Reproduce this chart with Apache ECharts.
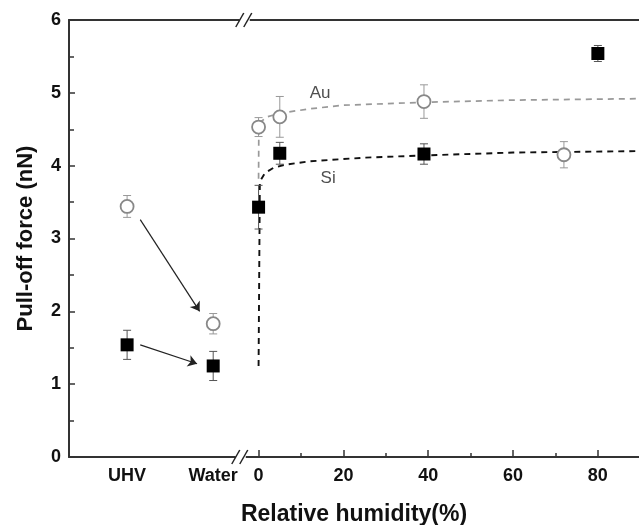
<!DOCTYPE html>
<html>
<head>
<meta charset="utf-8">
<script src="https://cdn.jsdelivr.net/npm/echarts@6/dist/echarts.min.js"></script>
<style>
  html, body { margin: 0; padding: 0; background: #fff; }
  #chart { width: 639px; height: 525px; }
</style>
</head>
<body>
<div id="chart"></div>
<script>
// left part of the broken axis (UHV / Water), placed at negative x positions
const sideLabels = ['UHV', 'Water'];
const sidePos = [-31, -10.7];
const auSide = [3.44, 1.83];
const auSideErr = [0.15, 0.14];
const siSide = [1.54, 1.25];
const siSideErr = [0.2, 0.2];

// humidity part
const auRH = [0, 5, 39, 72];
const auVal = [4.53, 4.67, 4.88, 4.15];
const auErr = [0.13, 0.28, 0.23, 0.18];
const siRH = [0, 5, 39, 80];
const siVal = [3.43, 4.17, 4.16, 5.54];
const siErr = [0.3, 0.15, 0.14, 0.11];

// dashed fit curves
const auFitX = [0, 0.05, 0.5, 2, 5, 12, 20, 39, 60, 90];
const auFitY = [3.82, 4.45, 4.6, 4.67, 4.72, 4.78, 4.83, 4.87, 4.9, 4.92];
const siFitX = [0, 0.3, 1.5, 3.5, 6, 12, 25, 39, 60, 90];
const siFitY = [1.25, 3.78, 3.9, 3.97, 4.01, 4.06, 4.11, 4.14, 4.18, 4.2];

// arrows UHV -> Water
const arrowAu = [[-27.9, 3.26], [-13.9, 2.0]];
const arrowSi = [[-27.9, 1.54], [-14.5, 1.28]];

const xTicks = [0, 20, 40, 60, 80];
const xMinor = [10, 30, 50, 70];
const breakX = -4.2;

const chart = echarts.init(document.getElementById('chart'));
const font = 'Liberation Sans, Arial, sans-serif';

function pts(xs, ys) { return xs.map((x, i) => [x, ys[i]]); }
function errs(xs, ys, es) { return xs.map((x, i) => [x, ys[i], ys[i] - es[i], ys[i] + es[i]]); }

function errRender(color) {
  return function (params, api) {
    const x = api.value(0);
    const a = api.coord([x, api.value(2)]);
    const b = api.coord([x, api.value(3)]);
    const w = 4;
    const st = { stroke: color, lineWidth: 1 };
    return {
      type: 'group',
      children: [
        { type: 'line', shape: { x1: a[0], y1: a[1], x2: b[0], y2: b[1] }, style: st },
        { type: 'line', shape: { x1: a[0] - w, y1: a[1], x2: a[0] + w, y2: a[1] }, style: st },
        { type: 'line', shape: { x1: b[0] - w, y1: b[1], x2: b[0] + w, y2: b[1] }, style: st }
      ]
    };
  };
}

const auPoints = pts(sidePos, auSide).concat(pts(auRH, auVal));
const siPoints = pts(sidePos, siSide).concat(pts(siRH, siVal));
const auErrData = errs(sidePos, auSide, auSideErr).concat(errs(auRH, auVal, auErr));
const siErrData = errs(sidePos, siSide, siSideErr).concat(errs(siRH, siVal, siErr));

const labelMap = {};
sidePos.forEach((p, i) => { labelMap[p] = sideLabels[i]; });

const axisCommon = { type: 'value', min: -44.7, max: 89.7, gridIndex: 0 };

chart.setOption({
  animation: false,
  grid: { left: 69, top: 20, right: 0, bottom: 68, outerBoundsMode: 'none', containLabel: false },
  xAxis: [
    Object.assign({}, axisCommon, {
      position: 'bottom',
      name: 'Relative humidity(%)',
      nameLocation: 'middle',
      nameGap: 46,
      nameTextStyle: { fontFamily: font, fontWeight: 'bold', fontSize: 23, color: '#111' },
      axisLine: { show: true, onZero: false, lineStyle: { color: '#333', width: 2 } },
      axisTick: { show: true, inside: true, length: 7, customValues: xTicks, lineStyle: { color: '#333', width: 1.5 } },
      axisLabel: {
        customValues: sidePos.concat(xTicks),
        fontFamily: font, fontWeight: 'bold', fontSize: 18, color: '#111', margin: 10,
        formatter: v => (labelMap[v] !== undefined ? labelMap[v] : String(v))
      },
      splitLine: { show: false }
    }),
    Object.assign({}, axisCommon, {
      position: 'bottom',
      axisLine: { show: false, onZero: false },
      axisTick: { show: true, inside: true, length: 4, customValues: xMinor, lineStyle: { color: '#333', width: 1.5 } },
      axisLabel: { show: false },
      splitLine: { show: false }
    }),
    Object.assign({}, axisCommon, {
      position: 'top',
      axisLine: { show: true, onZero: false, lineStyle: { color: '#333', width: 2 } },
      axisTick: { show: false },
      axisLabel: { show: false },
      splitLine: { show: false }
    })
  ],
  yAxis: {
    type: 'value', min: 0, max: 6, interval: 1,
    position: 'left',
    name: 'Pull-off force (nN)',
    nameLocation: 'middle',
    nameGap: 32,
    nameTextStyle: { fontFamily: font, fontWeight: 'bold', fontSize: 22, color: '#111' },
    axisLine: { show: true, onZero: false, lineStyle: { color: '#333', width: 2 } },
    axisTick: { show: true, inside: true, length: 6, lineStyle: { color: '#333', width: 1.5 } },
    minorTick: { show: true, splitNumber: 2, length: 5, lineStyle: { color: '#333', width: 1.5 } },
    axisLabel: { fontFamily: font, fontWeight: 'bold', fontSize: 18, color: '#111', margin: 8 },
    splitLine: { show: false }
  },
  series: [
    {
      type: 'line', data: pts(auFitX, auFitY), symbol: 'none', z: 1,
      lineStyle: { color: '#999', width: 1.7, type: [6, 5] }
    },
    {
      type: 'line', data: pts(siFitX, siFitY), symbol: 'none', z: 1,
      lineStyle: { color: '#111', width: 1.9, type: [6, 5] }
    },
    { type: 'custom', renderItem: errRender('#999'), data: auErrData, z: 2 },
    { type: 'custom', renderItem: errRender('#555'), data: siErrData, z: 2 },
    {
      type: 'scatter', data: auPoints, symbol: 'circle', symbolSize: 13, z: 3,
      itemStyle: { color: '#fff', borderColor: '#888', borderWidth: 1.8, opacity: 1 }
    },
    {
      type: 'scatter', data: siPoints, symbol: 'rect', symbolSize: 13, z: 4,
      itemStyle: { color: '#000', opacity: 1 }
    },
    {
      type: 'line', data: [], z: 5,
      markLine: {
        silent: true, symbol: ['none', 'arrow'], symbolSize: 9,
        label: { show: false },
        lineStyle: { color: '#222', width: 1.2, type: 'solid' },
        data: [
          [{ coord: arrowAu[0] }, { coord: arrowAu[1] }],
          [{ coord: arrowSi[0] }, { coord: arrowSi[1] }]
        ]
      }
    },
    {
      type: 'scatter', symbol: 'circle', symbolSize: 1, z: 5,
      itemStyle: { color: 'rgba(0,0,0,0)' },
      data: [
        { value: [14.5, 5.0], name: 'Au' },
        { value: [16.4, 3.83], name: 'Si' }
      ],
      label: { show: true, position: 'inside', formatter: '{b}', fontFamily: font, fontSize: 17, color: '#222' }
    }
  ]
});

// axis break marks "//" on the bottom and top lines
function breakMark(yVal, dx) {
  const p = chart.convertToPixel({ xAxisIndex: 0, yAxisIndex: 0 }, [breakX, yVal]);
  const cx = p[0] + dx, cy = p[1];
  const st = { stroke: '#222', lineWidth: 1.5 };
  return [
    { type: 'rect', shape: { x: cx - 5, y: cy - 3, width: 10, height: 6 }, style: { fill: '#fff' }, z: 10 },
    { type: 'line', shape: { x1: cx - 9, y1: cy + 7, x2: cx - 1, y2: cy - 7 }, style: st, z: 11 },
    { type: 'line', shape: { x1: cx - 1, y1: cy + 7, x2: cx + 7, y2: cy - 7 }, style: st, z: 11 }
  ];
}
chart.setOption({ graphic: breakMark(0, 0).concat(breakMark(6, 4)) });
</script>
</body>
</html>
